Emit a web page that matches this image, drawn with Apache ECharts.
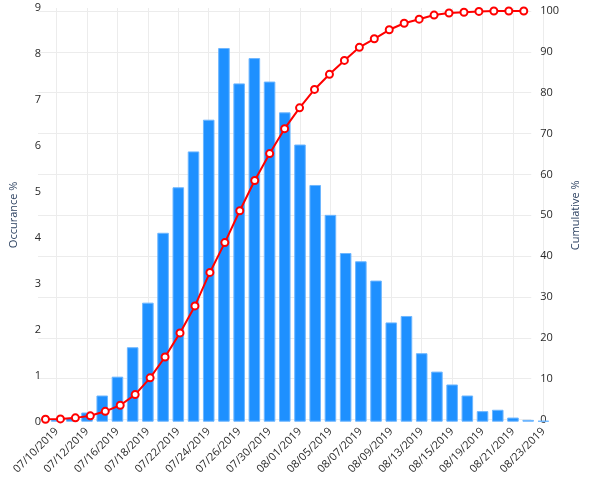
<!DOCTYPE html>
<html>
<head>
<meta charset="utf-8">
<script src="https://cdn.jsdelivr.net/npm/echarts@6/dist/echarts.min.js"></script>
<style>
html,body{margin:0;padding:0;background:#fff;}
#chart{width:589px;height:477px;}
</style>
</head>
<body>
<div id="chart"></div>
<script>
const categories = ["07/10/2019","07/11/2019","07/12/2019","07/15/2019","07/16/2019","07/17/2019","07/18/2019","07/19/2019",
  "07/22/2019","07/23/2019","07/24/2019","07/25/2019","07/26/2019","07/29/2019","07/30/2019","07/31/2019",
  "08/01/2019","08/02/2019","08/05/2019","08/06/2019","08/07/2019","08/08/2019","08/09/2019","08/12/2019",
  "08/13/2019","08/14/2019","08/15/2019","08/16/2019","08/19/2019","08/20/2019","08/21/2019","08/22/2019","08/23/2019"];
const occurrence = [0.05,0.08,0.2,0.57,0.98,1.62,2.59,4.11,5.10,5.88,6.57,8.13,7.36,7.91,7.40,6.73,
  6.03,5.15,4.50,3.67,3.49,3.07,2.16,2.30,1.49,1.09,0.81,0.57,0.23,0.26,0.09,0.04,0.02];
const cumulative = [0.05,0.15,0.4,0.9,2.0,3.5,6.1,10.2,15.3,21.2,27.8,36.0,43.3,51.1,58.5,65.1,
  71.2,76.3,80.8,84.5,87.9,91.1,93.2,95.4,97.0,98.0,99.0,99.5,99.7,99.9,100,100,100];
const leftTicks = {min:0, max:9, interval:1};
const rightTicks = {min:0, max:100, interval:10};

const FONT = '"Open Sans", "Noto Sans", sans-serif';
const chart = echarts.init(document.getElementById('chart'));
chart.setOption({
  animation: false,
  backgroundColor: '#fff',
  textStyle: {fontFamily: FONT},
  grid: [
    {left: 38, right: 38, top: 8, bottom: 54},
    {left: 38, right: 38, top: 11, bottom: 57.5}
  ],
  xAxis: [
    {
      type: 'category', gridIndex: 0, data: categories, boundaryGap: true,
      axisLine: {show: false}, axisTick: {show: false},
      axisLabel: {interval: 1, rotate: 45, fontSize: 11, color: '#2a2a2a', fontFamily: FONT, margin: 8},
      splitLine: {show: true, interval: 1, alignWithLabel: true, lineStyle: {color: '#ececec', width: 1}}
    },
    {
      type: 'category', gridIndex: 1, data: categories, boundaryGap: true, show: false
    }
  ],
  yAxis: [
    {
      type: 'value', gridIndex: 0, min: leftTicks.min, max: leftTicks.max, interval: leftTicks.interval,
      name: 'Occurance %', nameLocation: 'middle', nameGap: 30, nameRotate: 90,
      nameTextStyle: {color: '#2a3f5f', fontSize: 11, fontFamily: FONT},
      axisLine: {show: false}, axisTick: {show: false}, splitLine: {show: false},
      axisLabel: {fontSize: 11, color: '#2a2a2a', fontFamily: FONT, margin: 8}
    },
    {
      type: 'value', gridIndex: 1, position: 'right', min: rightTicks.min, max: rightTicks.max, interval: rightTicks.interval,
      name: 'Cumulative %', nameLocation: 'middle', nameGap: 32, nameRotate: 90,
      nameTextStyle: {color: '#2a3f5f', fontSize: 11, fontFamily: FONT},
      axisLine: {show: false}, axisTick: {show: false},
      splitLine: {show: true, lineStyle: {color: '#ececec', width: 1}},
      axisLabel: {fontSize: 11, color: '#2a2a2a', fontFamily: FONT, margin: 9}
    }
  ],
  series: [
    {
      type: 'bar', xAxisIndex: 0, yAxisIndex: 0, data: occurrence,
      barCategoryGap: '24%',
      itemStyle: {color: '#1e90ff', borderColor: '#6db6ff', borderWidth: 1}
    },
    {
      type: 'line', xAxisIndex: 1, yAxisIndex: 1, data: cumulative,
      symbol: 'circle', symbolSize: 7,
      lineStyle: {color: '#ff0000', width: 2},
      itemStyle: {color: '#ffffff', borderColor: '#ff0000', borderWidth: 2},
      z: 5
    }
  ]
});
</script>
</body>
</html>
